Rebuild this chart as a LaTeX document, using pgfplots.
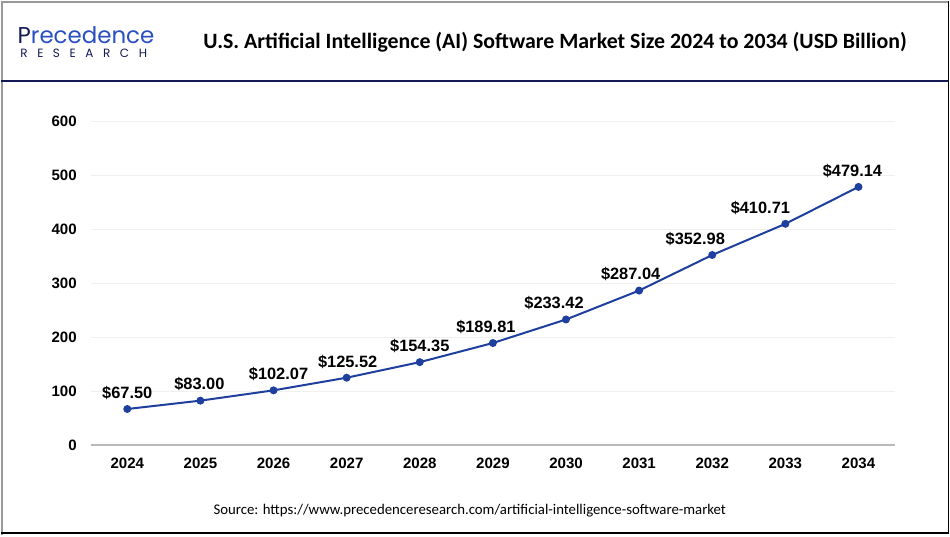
\documentclass[border=0pt]{standalone}
\usepackage{pgfplots}
\pgfplotsset{compat=1.18}
\usepackage{pgfplotstable}
\usepackage{fontspec}
\setmainfont{Liberation Sans}
\newfontfamily\titlefont{Carlito}
\newfontfamily\logofont{Poppins}
\newfontfamily\logospaced[LetterSpace=80]{Poppins}
\definecolor{linecol}{HTML}{1F3F9F}
\definecolor{navy}{HTML}{141A55}
\definecolor{logoblue}{HTML}{2A4FC0}

\pgfplotstableread{
x y dx
0 67.50 0
1 83.00 -1
2 102.07 5
3 125.52 1
4 154.35 0
5 189.81 -7
6 233.42 -12
7 287.04 -8.5
8 352.98 -17
9 410.71 -25
10 479.14 -6
}\datatab

\begin{document}
\begin{tikzpicture}
% frame
\fill[white] (0pt,0pt) rectangle (712.5pt,401.25pt);
\draw[gray!80,line width=1.5pt] (0.56pt,0pt) -- (0.56pt,400.7pt) -- (711pt,400.7pt);
\draw[black,line width=1.2pt] (711.4pt,401.25pt) -- (711.4pt,1.9pt) -- (0pt,1.9pt);
\draw[navy,line width=0.9pt] (0pt,341pt) -- (711pt,341pt);
% logo
\node[anchor=west,inner sep=0pt,text=navy] at (12.5pt,375.5pt) {\logofont\fontsize{17.2}{18}\selectfont P\textcolor{logoblue}{recedence}};
\node[anchor=west,inner sep=0pt,text=navy] at (14.5pt,361.5pt) {\logospaced\fontsize{9}{10}\selectfont RESEARCH};
% title
\node[anchor=center,inner sep=0pt] at (416pt,370.5pt) {\titlefont\bfseries\fontsize{16.4}{18}\selectfont U.S. Artificial Intelligence (AI) Software Market Size 2024 to 2034 (USD Billion)};
% source
\node[anchor=center,inner sep=0pt] at (352pt,18.5pt) {\titlefont\fontsize{11.1}{13}\selectfont Source: https://www.precedenceresearch.com/artificial-intelligence-software-market};
\begin{axis}[
  at={(67.5pt,67.5pt)}, anchor=south west,
  scale only axis,
  width=603.75pt, height=243pt,
  xmin=-0.5, xmax=10.5,
  ymin=0, ymax=600,
  axis line style={draw=none},
  xtick={0,...,10},
  xticklabels={2024,2025,2026,2027,2028,2029,2030,2031,2032,2033,2034},
  ytick={0,100,...,600},
  tick style={draw=none},
  ymajorgrids,
  grid style={draw=gray!12,line width=0.6pt},
  ticklabel style={font=\bfseries\fontsize{11.3}{13}\selectfont},
  /pgf/number format/assume math mode=true,
  xticklabel style={yshift=-6pt},
  yticklabel style={xshift=-7pt},
  clip=false,
]
\draw[gray!55,line width=1.6pt] (axis cs:-0.5,0) -- (axis cs:10.5,0);
\addplot[linecol,line width=1.5pt,mark=*,mark size=2.2pt,
  mark options={fill=linecol,draw=linecol},
  visualization depends on={\thisrow{dx} \as \dx},
  point meta=y,
  nodes near coords={\$\pgfmathprintnumber[fixed,fixed zerofill,precision=2,assume math mode=true]{\pgfplotspointmeta}},
  every node near coord/.append style={font=\bfseries\fontsize{12.3}{14}\selectfont,text=black,anchor=south,xshift=\dx*0.75pt,yshift=3pt},
] table[x=x,y=y] {\datatab};
\end{axis}
\end{tikzpicture}
\end{document}
